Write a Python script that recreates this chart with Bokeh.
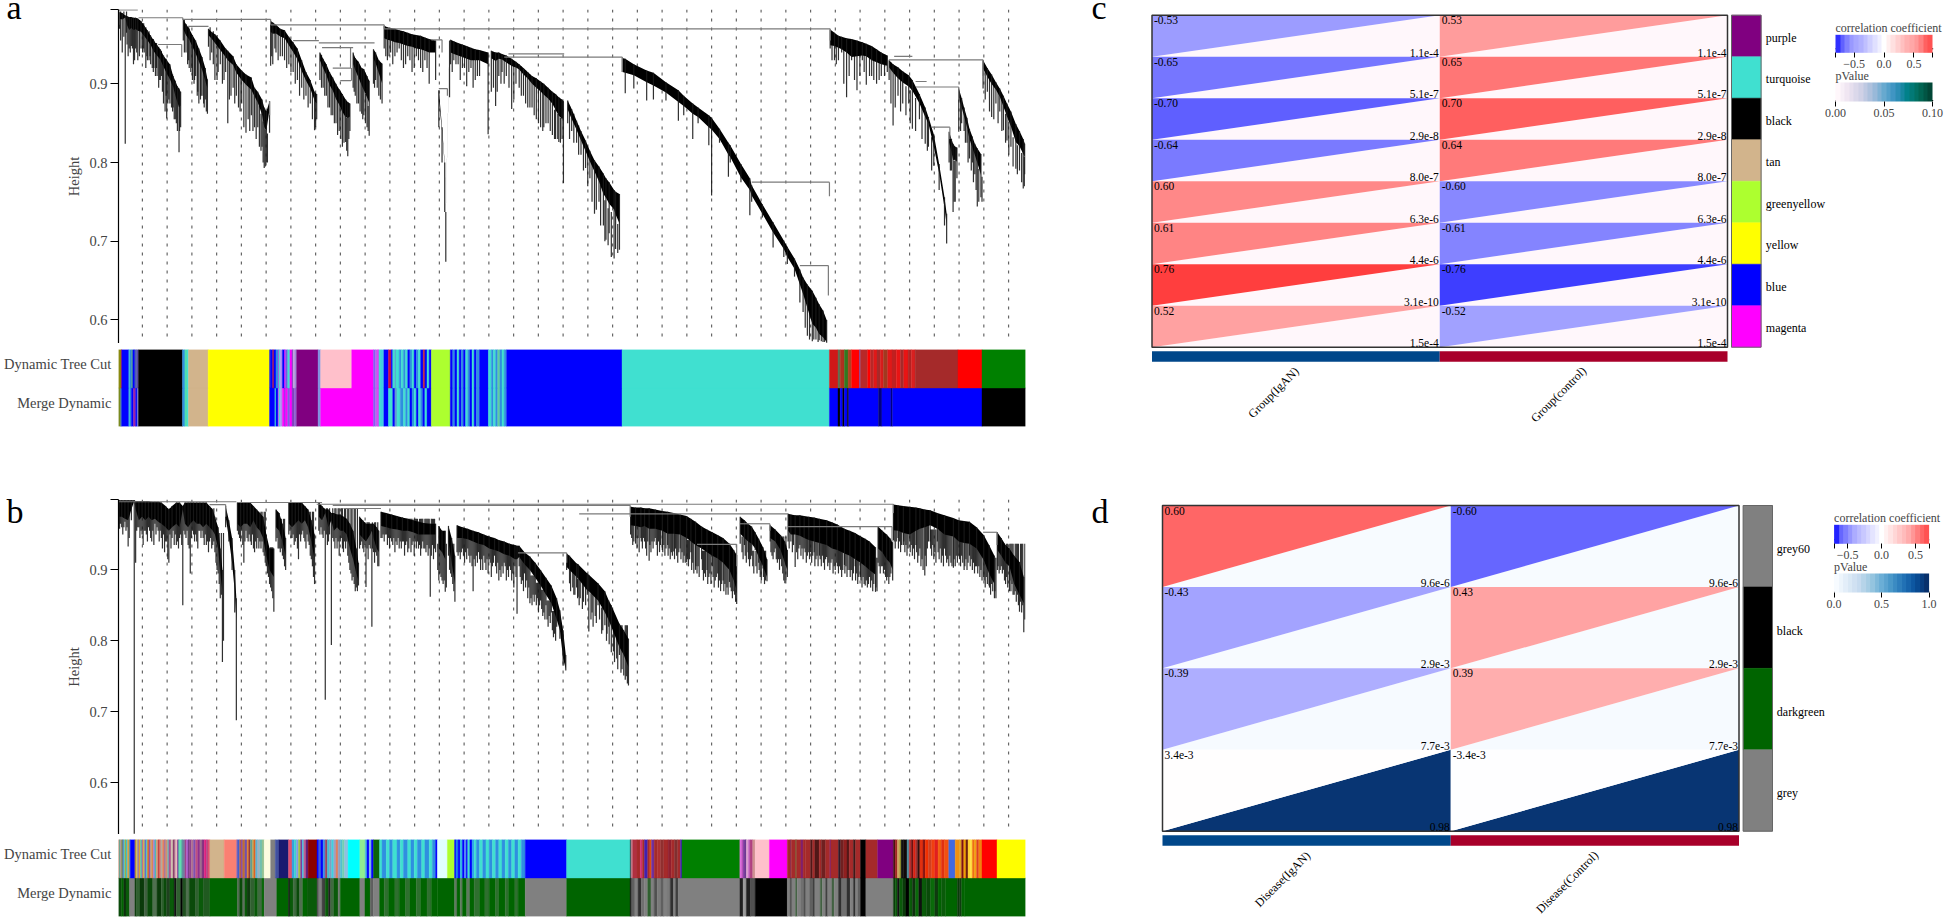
from math import pi
from bokeh.embed import file_html
from bokeh.resources import INLINE
from bokeh.layouts import column, row
from bokeh.plotting import figure
from bokeh.models import (AllLabels, ColorBar, ColumnDataSource, FixedTicker, LinearColorMapper, Range1d)
from bokeh.core.properties import value
from bokeh.palettes import PuBuGn, Blues

FONT = "Liberation Serif"
B, T, M, S = "#0000ff", "#40e0d0", "#ff00ff", "#2f8fe0"
DG, G, K = "#006400", "#808080", "#000000"

# ---------- dendrogram branches: (gene order, branch top, solid band low, longest drop) ----------
a1 = [(1,.991,.976,.97),(3.5,.99,.975,.94),(6.3,.987,.982,.824),(8,.986,.965,.95),(10,.985,.955,.945),(12,.985,.96,.948),(14,.984,.955,.925),(16,.984,.958,.945),(18,.983,.955,.93),(21,.98,.955,.945),(24,.974,.95,.94),(27,.968,.945,.93),(30,.961,.94,.925),(33,.955,.93,.92),(36,.949,.925,.91),(39,.944,.92,.905),(42,.936,.91,.875),(45,.93,.90,.856),(48,.925,.89,.875),(51,.91,.885,.87),(53,.904,.87,.855),(55,.897,.86,.84),(56.5,.894,.85,.813),(58,.89,.858,.845)]
a2 = [(60.5,.981,.96,.955),(63,.976,.95,.94),(66,.97,.945,.92),(69,.962,.935,.905),(72,.955,.925,.91),(75,.945,.915,.875),(78,.934,.905,.885),(81,.92,.89,.88),(83,.906,.885,.862)]
a3 = [(84,.97,.955,.947),(87,.966,.95,.94),(90,.963,.943,.905),(95,.955,.933,.925),(100,.945,.925,.915),(102,.942,.92,.85),(107,.935,.915,.895),(110,.925,.905,.885),(115,.917,.895,.875),(119,.912,.888,.838),(124,.908,.88,.86),(127,.895,.875,.845),(130,.89,.865,.845),(134,.88,.845,.82),(136,.87,.825,.793),(138,.865,.82,.80),(141,.878,.86,.838)]
a4 = [(142,.98,.955,.923),(144,.978,.952,.925),(147,.975,.955,.94),(151,.97,.952,.935),(155,.968,.95,.93),(159,.96,.94,.925),(163,.953,.93,.915),(167,.945,.92,.905),(171,.93,.905,.895),(175,.915,.895,.885),(179,.905,.885,.875),(183,.89,.87,.841),(185,.887,.865,.855)]
a5 = [(188,.94,.922,.905),(191,.932,.91,.895),(194,.925,.9,.885),(197,.915,.885,.87),(200,.908,.878,.86),(203,.9,.865,.85),(206,.893,.858,.84),(209,.887,.845,.82),(212,.88,.84,.826),(214,.877,.84,.808),(216,.875,.845,.84)]
a6 = [(219,.94,.913,.895),(221,.933,.905,.885),(224,.928,.892,.875),(227,.92,.88,.862),(229,.919,.87,.86),(232,.91,.86,.845),(234,.904,.853,.834)]
a7 = [(238,.944,.923,.90),(240,.94,.915,.905),(243,.93,.9,.885),(246,.926,.88,.875)]
a8 = [(248,.974,.958,.945),(251,.972,.956,.93),(254,.971,.955,.94),(258,.97,.953,.935),(262,.968,.952,.945),(266,.967,.95,.92),(270,.965,.948,.935),(274,.963,.947,.915),(278,.962,.945,.935),(282,.961,.944,.92),(286,.959,.942,.93),(290,.957,.94,.9),(296,.955,.94,.905)]
a9 = [(299,.892,.88,.845),(302,.845,.84,.80),(304.5,.80,.796,.737),(305.5,.737,.735,.674),(309,.955,.95,.883)]
a10 = [(310,.956,.94,.925),(313,.954,.938,.93),(317,.952,.936,.925),(321,.95,.934,.92),(325,.948,.932,.897),(329,.946,.93,.92),(333,.944,.93,.905),(337,.943,.93,.91),(345,.94,.925,.836)]
a11 = [(348,.942,.925,.89),(352,.94,.92,.872),(355,.94,.925,.91),(358,.938,.925,.915),(362,.936,.92,.91),(367,.932,.915,.868),(371,.928,.915,.90),(374,.925,.913,.895),(378,.92,.905,.885),(382,.915,.9,.87),(386,.91,.892,.87),(390,.907,.885,.855),(394,.903,.88,.845),(397,.9,.875,.845),(401,.895,.87,.85),(405,.89,.862,.835),(408,.887,.85,.83),(411,.883,.84,.826),(414,.88,.835,.83),(415.3,.878,.84,.774)]
a12 = [(419.3,.879,.858,.85),(423,.868,.845,.84),(427.6,.853,.832,.825),(431.7,.84,.818,.81),(436,.828,.803,.793),(440,.815,.79,.78),(444.3,.803,.777,.735),(448.5,.795,.76,.75),(452.6,.786,.739,.72),(455,.78,.735,.702),(458,.775,.725,.71),(462.6,.765,.72,.678),(464,.763,.71,.69),(467.6,.76,.692,.689)]
a13 = [(470.3,.933,.915,.915),(473,.932,.914,.888),(481,.925,.911,.894),(493,.917,.902,.879),(499.3,.914,.898,.88),(511,.902,.889,.879),(522.6,.892,.877,.853),(527.6,.885,.872,.86),(536,.875,.862,.83),(541,.87,.858,.85),(551,.86,.845,.822),(553.6,.857,.842,.758),(561,.843,.83,.825),(569.3,.825,.81,.782),(571,.822,.807,.80),(581,.798,.781,.775),(589.3,.78,.765,.733),(591,.771,.758,.75),(601,.747,.735,.73),(611,.724,.711,.692),(621,.701,.69,.68),(624.3,.693,.68,.671),(631,.678,.665,.655),(636,.664,.645,.622),(639,.654,.633,.61),(643,.645,.615,.58),(647.6,.637,.595,.573),(651,.628,.59,.575),(654,.62,.582,.574),(657.6,.612,.578,.572),(661,.60,.572,.571)]
a14 = [(664.3,.969,.949,.945),(668.3,.965,.948,.93),(672,.961,.946,.93),(675,.96,.944,.94),(679.6,.958,.94,.883),(684.3,.957,.934,.93),(689.3,.955,.935,.892),(694.3,.953,.936,.93),(698,.951,.935,.899),(703,.948,.93,.91),(707.6,.944,.9275,.9),(712,.94,.925,.91),(717.6,.936,.923,.915)]
a15 = [(719.3,.93,.913,.905),(723,.925,.905,.847),(727.6,.921,.896,.885),(732,.916,.89,.875),(737.6,.911,.885,.875),(741,.905,.88,.843),(747.6,.887,.866,.855),(753,.87,.848,.824),(756,.858,.843,.82),(761,.836,.807,.796),(766,.798,.777,.765),(771,.756,.731,.72),(773,.735,.709,.697)]
a16 = [(775.3,.839,.815,.80),(777.5,.83,.80,.79),(779,.824,.786,.737),(781,.82,.79,.75),(782.6,.819,.786,.78)]
a17 = [(784.3,.894,.875,.839),(787,.882,.86,.85),(789.3,.87,.849,.84),(792,.857,.835,.825),(794.3,.843,.819,.805),(797,.833,.808,.80),(799.3,.824,.798,.785),(801.6,.818,.785,.744),(805,.811,.762,.756)]
a18 = [(807,.93,.911,.894),(811,.92,.9,.89),(815,.912,.89,.858),(819,.902,.885,.875),(822.6,.894,.875,.865),(826,.885,.86,.841),(829.3,.875,.845,.828),(833,.865,.83,.82),(837.6,.849,.807,.792),(841,.84,.805,.79),(844.5,.83,.795,.767),(846,.824,.794,.785)]
a_branches = [a1,a2,a3,a4,a5,a6,a7,a8,a9,a10,a11,a12,a13,a14,a15,a16,a17,a18]
a_airy = [a1,a2,a3,a4,a5,a6,a7,a11,a12,a15,a16,a17,a18]
# (order, from, to) of the finer drops
a_fringe = [(2,.98,.955),(5,.98,.96),(7.5,.98,.965),(9,.97,.935),(11,.97,.94),(13,.97,.945),(15,.97,.93),(17,.97,.94),(19.5,.965,.935),(22.5,.965,.94),(23.5,.965,.945),(25.5,.96,.92),(26.5,.955,.935),(28.5,.955,.93),(29.5,.95,.935),(31.5,.945,.92),(32.5,.945,.915),(34.5,.94,.91),(35.5,.94,.92),(37.5,.935,.895),(38.5,.93,.905),(40,.93,.91),(41,.925,.89),(43.5,.92,.865),(44.5,.92,.885),(46,.91,.875),(47,.91,.88),(49.5,.90,.87),(50.5,.90,.865),(52,.885,.855),(54,.88,.85),(57,.87,.84),
 (61.5,.97,.94),(64.5,.96,.925),(65.5,.96,.93),(67.5,.95,.915),(68.5,.95,.92),(70.5,.94,.9),(71,.94,.905),(73.5,.93,.885),(74,.93,.89),(76.5,.92,.88),(77,.92,.885),(79.5,.905,.875),(80,.90,.87),(82,.895,.865),
 (85.5,.96,.93),(88.5,.955,.925),(92,.95,.905),(93,.945,.915),(97,.935,.9),(98.5,.93,.905),(103.5,.925,.88),(105,.92,.885),(108.5,.915,.875),(112,.905,.87),(113.5,.9,.865),(117,.895,.845),(121,.89,.855),(122.5,.885,.84),(125.5,.88,.84),(128.5,.87,.83),(131.5,.86,.82),(133,.85,.815),(135,.84,.80),(137,.83,.795),(139,.825,.80),
 (143,.965,.935),(146,.96,.945),(149,.96,.93),(153,.955,.935),(157,.95,.92),(161,.94,.915),(165,.93,.9),(169,.92,.885),(173,.905,.88),(177,.895,.87),(181,.88,.855),(184,.875,.845),
 (189.5,.925,.895),(192.5,.915,.885),(195.5,.905,.87),(198.5,.895,.86),(201.5,.885,.85),(204.5,.87,.835),(207.5,.86,.83),(210.5,.85,.825),(213,.845,.815),(215,.85,.83),
 (220,.92,.89),(222.5,.91,.875),(225.5,.90,.865),(228,.885,.855),(230.5,.875,.85),(233,.86,.84),(239,.925,.895),(241.5,.915,.895),(244.5,.905,.88),
 (249.5,.96,.935),(252.5,.955,.935),(256,.955,.925),(260,.955,.94),(264,.95,.93),(268,.95,.925),(272,.95,.93),(276,.945,.92),(280,.945,.93),(284,.945,.915),(288,.94,.92),
 (311.5,.94,.915),(315,.94,.925),(319,.935,.905),(323,.935,.92),(327,.93,.915),(331,.93,.895),(335,.93,.91),
 (350,.925,.895),(353.5,.92,.89),(357,.925,.9),(360,.92,.9),(364.5,.92,.895),(369,.915,.88),(376,.91,.885),(380,.905,.875),(384,.9,.87),(388,.89,.86),(392,.885,.85),(396,.88,.84),(399,.875,.85),(403,.87,.84),(407,.855,.83),(410,.85,.83),(412.5,.845,.825),
 (421,.86,.83),(425,.85,.825),(429.5,.835,.81),(434,.815,.79),(438,.805,.77),(442,.79,.75),(446,.78,.74),(450,.76,.72),(454,.74,.70),(457,.73,.695),(460,.725,.68),(466,.71,.685),
 (641,.63,.59),(645,.62,.575),(649,.60,.575),(653,.59,.572),(656,.585,.573),(659,.58,.572),
 (666,.95,.93),(670,.95,.925),(677,.945,.9),(682,.94,.91),(687,.94,.905),(692,.935,.91),(696,.935,.915),(701,.93,.91),(705,.93,.905),(710,.925,.905),(715,.925,.91),
 (721,.915,.875),(725,.905,.87),(730,.895,.865),(735,.885,.86),(739,.88,.85),(744,.87,.84),(750,.86,.83),(755,.845,.815),(759,.82,.79),
 (776.5,.815,.79),(780,.79,.75),(786,.87,.84),(790.5,.85,.825),(793,.83,.80),(796,.815,.79),(798,.81,.775),(800.5,.80,.765),(803,.78,.75),(806,.77,.75),(809,.91,.88),(813,.895,.865),(817,.89,.855),(821,.88,.85),(824.5,.87,.84),(828,.85,.825),(831,.84,.81),(835,.82,.795),(839,.81,.785),(843,.80,.775),(845.5,.795,.77)]
# (from, to, height) of the joining branches
a_joins = [(0,18,.994),(18.7,60,.984),(37,59,.95),(60,142,.982),(65,84,.973),(142,248,.975),(163,187,.955),(187,239,.952),(190,219,.946),(200,217,.92),(207,217,.904),(248,664.3,.97),(364,416,.938),(360,470.3,.934),(591,663.6,.775),(636,662.6,.669),(719,807,.9305),(744.3,784.3,.896),(759.3,776,.845),(724,741,.935),(744,754.3,.903),(292,302,.956),(299,307,.894)]
# (order, top, bottom) of the joining stems
a_stems = [(59,.95,.934),(60,.984,.981),(142,.982,.975),(248,.975,.97),(663.6,.775,.757),(662.6,.669,.631),(664.3,.97,.955),(470.3,.934,.915),(807,.9305,.91),(784.3,.896,.88),(776,.845,.83),(216.6,.946,.92),(217.5,.92,.904),(141,.878,.86),(302,.956,.94),(307,.894,.885),(0.3,.994,.975)]

b1 = [(0.5,.998,.975,.965),(3,.998,.975,.96),(6,.998,.972,.968),(9,.998,.97,.933),(12,.998,.985,.97),(14.7,.998,.997,.528),(16,.997,.985,.91),(19,.997,.97,.96),(22,.997,.975,.95),(25,.997,.97,.955),(28,.997,.975,.96),(31,.996,.97,.94),(34,.996,.972,.965),(37,.996,.968,.955),(40,.995,.965,.945),(44,.99,.96,.94),(47,.985,.955,.91),(50,.99,.96,.945),(54,.995,.965,.935),(57,.995,.96,.945),(60,.99,.985,.85),(62,.995,.965,.95),(65,.995,.96,.935),(67,.995,.965,.895),(70,.995,.97,.95),(73,.995,.965,.94),(76,.995,.965,.955),(79,.995,.96,.945),(82,.995,.965,.935),(85,.99,.96,.94),(88,.985,.955,.935),(90,.975,.95,.925),(93,.96,.93,.895),(95,.93,.895,.86),(97,.90,.87,.77)]
b2 = [(100,.99,.975,.96),(103,.97,.945,.94),(106,.945,.91,.90),(108.5,.90,.87,.84),(110,.86,.83,.688)]
b3 = [(111,.995,.965,.955),(114,.995,.96,.94),(117,.995,.965,.91),(120,.995,.965,.945),(123,.995,.96,.94),(126,.99,.97,.93),(129,.985,.96,.93),(132,.98,.955,.94),(135,.975,.945,.925),(138,.95,.92,.905),(141,.93,.90,.88),(145,.93,.89,.841)]
b4 = [(147,.985,.96,.94),(150,.98,.955,.93),(153,.965,.94,.92),(156,.945,.92,.90)]
b5 = [(159,.995,.965,.95),(162,.995,.96,.945),(165,.995,.965,.94),(168,.995,.97,.915),(171,.995,.965,.95),(174,.99,.97,.94),(177,.985,.96,.94),(180,.97,.94,.915),(183,.95,.915,.88)]
b6 = [(187,.995,.975,.955),(190,.99,.97,.95),(193,.985,.98,.717),(196,.985,.96,.94),(198.7,.98,.97,.794),(201,.98,.955,.94),(204,.978,.96,.93),(207,.978,.955,.94),(210,.975,.955,.925),(213,.972,.95,.94),(216,.965,.93,.90),(219,.955,.915,.89),(222,.93,.895,.875),(224,.91,.885,.878)]
b7 = [(225,.975,.95,.93),(228,.97,.945,.93),(231,.965,.94,.876),(235,.965,.95,.93),(236.5,.965,.955,.82),(238,.965,.945,.925),(241,.96,.93,.92),(243,.955,.925,.905)]
b8 = [(245,.982,.962,.945),(250,.98,.96,.95),(255,.978,.958,.94),(260,.976,.957,.935),(265,.974,.955,.94),(270,.972,.955,.925),(275,.97,.953,.94),(280,.968,.95,.93),(285,.966,.95,.93),(291,.965,.95,.862),(296,.965,.95,.925)]
b9 = [(299,.962,.93,.885),(302,.955,.925,.885),(305,.955,.915,.869)]
b10 = [(308,.962,.94,.92),(311,.945,.91,.89),(314,.92,.88,.855)]
b11 = [(316,.963,.945,.925),(321,.96,.945,.93),(326,.958,.943,.93),(331,.955,.94,.87),(336,.953,.937,.925),(341,.95,.935,.92),(346,.947,.93,.915),(351,.945,.928,.92),(355,.942,.926,.885),(360,.94,.922,.91),(365,.937,.92,.905),(370,.935,.915,.905),(372,.934,.915,.838),(374,.934,.918,.905),(379,.925,.908,.895),(384,.919,.9,.853),(389,.91,.889,.865),(394,.9,.878,.857),(399,.889,.865,.85),(404,.878,.853,.84),(409,.86,.83,.82),(412,.843,.815,.803),(415,.815,.775,.765),(417.5,.78,.76,.758)]
b12 = [(418.3,.923,.904,.9),(421,.92,.90,.881),(427.6,.909,.89,.875),(429,.908,.888,.862),(437.6,.895,.871,.865),(439,.893,.87,.813),(447.6,.881,.857,.85),(454,.87,.84,.822),(457.6,.857,.829,.82),(460,.85,.82,.784),(467.6,.824,.791,.78),(471.6,.815,.78,.751),(476,.803,.763,.737)]
b13 = [(478,.989,.963,.95),(482.6,.988,.962,.937),(487.6,.988,.96,.945),(491,.987,.962,.94),(495.3,.987,.958,.913),(501,.985,.958,.945),(507.6,.983,.955,.928),(512.6,.982,.951,.935),(518.3,.98,.951,.926),(524.3,.978,.95,.93),(530.3,.976,.945,.911),(534.3,.972,.94,.925),(538.6,.968,.935,.9),(544.3,.961,.93,.915),(549.3,.957,.925,.9),(554.3,.953,.92,.905),(559.3,.949,.916,.895),(564.3,.945,.91,.885),(570.3,.937,.9,.883),(574.3,.928,.885,.87),(577,.921,.871,.852)]
b14 = [(580.3,.975,.951,.937),(584.3,.97,.945,.935),(587.6,.965,.94,.925),(591,.961,.937,.92),(594.3,.953,.93,.928),(597.6,.944,.918,.91),(601.6,.932,.905,.902),(605.3,.915,.89,.884)]
b15 = [(608.3,.963,.945,.94),(613,.957,.94,.93),(618,.949,.928,.915),(622,.94,.91,.881),(624.3,.928,.9,.89)]
b16 = [(625,.979,.955,.94),(627.6,.978,.95,.94),(631.6,.977,.95,.904),(636,.977,.948,.935),(640,.976,.945,.93),(644.3,.975,.942,.925),(649.3,.974,.94,.925),(654.3,.972,.938,.92),(661,.97,.935,.918),(666,.967,.93,.915),(671,.964,.928,.905),(677.6,.958,.923,.907),(682.6,.955,.92,.9),(687.6,.952,.915,.905),(692.6,.9475,.91,.89),(697,.944,.905,.878),(701,.94,.9,.89),(706.6,.932,.893,.869)]
b17 = [(709,.961,.93,.91),(713,.955,.925,.905),(717,.95,.915,.885),(720,.945,.91,.89),(722.6,.939,.9,.885)]
b18 = [(723.3,.992,.956,.942),(727.6,.991,.955,.945),(732.6,.99,.952,.935),(738.6,.989,.95,.94),(744.3,.988,.955,.935),(748,.987,.958,.93),(752.6,.985,.96,.892),(757.6,.984,.963,.94),(764.3,.98,.958,.94),(771,.977,.95,.93),(779.3,.973,.947,.903),(784.3,.97,.94,.92),(789.3,.969,.938,.9),(794.3,.968,.937,.92),(801,.96,.93,.905),(807.6,.949,.914,.89),(812.6,.935,.895,.878),(817.6,.92,.88,.86)]
b19 = [(820.3,.953,.928,.9),(824,.945,.92,.905),(828,.935,.91,.88),(831.6,.93,.905,.87),(836,.92,.88,.865),(841,.911,.865,.841),(845,.89,.853,.812)]
b_branches = [b1,b2,b3,b4,b5,b6,b7,b8,b9,b10,b11,b12,b13,b14,b15,b16,b17,b18,b19]
# (from, [(order, to), ...]) of the finer drops
b_f1 = (.975,[(1,.958),(2,.965),(4,.95),(5,.96),(7,.955),(8,.96),(10,.945),(17,.955),(18,.96),(20,.945),(21,.955),(23,.935),(24,.955),(26,.95),(27,.94),(29,.955),(30,.945),(32,.955),(33,.935),(35,.95),(36,.96),(38,.94),(39,.955),(41,.93),(42,.95),(43,.925),(45,.94),(46,.915),(48,.95),(49,.93),(51,.955),(52,.935),(53,.95),(55,.94),(56,.93),(58,.95),(59,.935),(61,.955),(63,.945),(64,.955),(66,.93),(68,.945),(69,.955),(71,.94),(72,.95),(74,.93),(75,.955),(77,.945),(78,.955),(80,.935),(81,.95),(83,.94),(84,.925),(86,.945),(87,.93),(89,.94)])
b_f2 = (.94,[(91,.91),(92,.90),(94,.88),(96,.865),(98,.80)])
b_f3 = (.97,[(112,.95),(113,.945),(115,.955),(116,.935),(118,.94),(119,.955),(121,.94),(122,.95),(124,.935),(125,.95),(127,.925),(128,.94),(130,.945),(131,.93),(133,.93),(134,.94),(136,.92),(137,.91),(160,.955),(161,.945),(163,.95),(164,.935),(166,.945),(167,.93),(169,.95),(170,.94),(172,.955),(173,.945),(175,.93),(176,.95),(178,.935),(179,.92),(181,.905),(182,.89)])
b_f4 = (.92,[(139,.895),(140,.89),(142,.875),(143,.87),(144,.86)])
b_f5 = (.96,[(148,.945),(149,.93),(151,.925),(152,.93),(154,.915),(155,.905)])
b_f6 = (.975,[(188,.95),(189,.96),(191,.945),(192,.955),(194,.95),(195,.935),(197,.95),(200,.945),(202,.93),(203,.945),(205,.94),(206,.92),(208,.945),(209,.93),(211,.94),(212,.93),(214,.92),(215,.91),(217,.895),(218,.885),(220,.88),(221,.87),(223,.87)])
b_f7 = (.955,[(226,.935),(227,.94),(229,.925),(230,.935),(232,.93),(233,.915),(234,.935),(237,.93),(239,.91),(240,.925),(242,.905)])
b_f8 = (.96,[(246,.945),(247,.95),(248,.94),(249,.95),(251,.935),(252,.945),(253,.93),(254,.945),(256,.935),(257,.945),(258,.925),(259,.94),(261,.945),(262,.93),(263,.94),(264,.93),(266,.94),(267,.92),(268,.935),(269,.94),(271,.93),(272,.945),(273,.925),(274,.935),(276,.92),(277,.94),(278,.93),(279,.94),(281,.935),(282,.92),(283,.93),(284,.94),(286,.93),(287,.925),(288,.935),(289,.92),(290,.93),(292,.92),(293,.935),(294,.915),(295,.93)])
b_f9 = (.925,[(298,.90),(300,.895),(301,.89),(303,.88),(304,.885),(306,.875),(309,.90),(310,.895),(312,.88),(313,.87)])
b_f10 = (.94,[(317,.92),(318,.925),(319,.915),(320,.925),(322,.92),(323,.91),(324,.925),(325,.915),(327,.92),(328,.91),(329,.92),(330,.905)])
b_f11 = (.93,[(332,.915),(333,.905),(334,.92),(335,.91),(337,.915),(338,.90),(339,.915),(340,.90),(342,.91),(343,.90),(344,.915),(345,.895),(347,.91),(348,.89),(349,.905),(350,.91)])
b_f12 = (.92,[(352,.905),(353,.895),(354,.91),(356,.90),(357,.89),(358,.905),(359,.895),(361,.905),(362,.885),(363,.9),(364,.89),(366,.9),(367,.885),(368,.895),(369,.875),(371,.89)])
b_f13 = (.905,[(375,.89),(376,.88),(377,.885),(378,.87)])
b_f14 = (.895,[(380,.875),(381,.885),(382,.86),(383,.875)])
b_f15 = (.88,[(385,.86),(386,.85),(387,.865),(388,.855)])
b_f16 = (.87,[(390,.85),(391,.86),(392,.84),(393,.85)])
b_f17 = (.86,[(395,.845),(396,.835),(397,.84),(398,.83)])
b_f18 = (.845,[(400,.83),(401,.82),(402,.835),(403,.825)])
b_f19 = (.83,[(405,.815),(406,.805),(407,.81),(408,.80)])
b_f20 = (.89,[(422,.87),(424,.875),(425,.865),(426,.865)])
b_f21 = (.875,[(428.5,.86),(430,.85),(431,.86),(433,.845),(434,.855),(436,.85)])
b_f22 = (.855,[(441,.83),(442,.84),(443,.82),(445,.835),(446,.825),(449,.83)])
b_f23 = (.835,[(451,.81),(452,.815),(455.5,.80),(456,.81),(458,.795)])
b_f24 = (.81,[(462,.785),(463,.77),(465,.775),(466,.76),(469,.755),(470,.76),(473,.745),(474,.75),(475,.74)])
b_f25 = (.955,[(479,.945),(480,.935),(481,.94),(483,.945),(484,.93),(485,.945),(486,.925),(488,.94),(489,.93),(490,.945),(492,.93),(493,.92),(494,.94),(496,.935),(497,.925),(498,.94),(499,.93),(500,.94),(502,.935),(503,.92),(504,.94),(505,.925),(506,.935)])
b_f26 = (.945,[(508,.925),(509,.935),(510,.92),(511,.93),(513,.92),(514,.93),(515,.915),(516,.925),(517,.92),(519,.915),(520,.93),(521,.92),(522,.91),(523,.925),(525,.915),(526,.925),(527,.91),(528,.92),(529,.91)])
b_f27 = (.93,[(531,.915),(532,.905),(533,.915),(535,.90),(536,.91),(537,.895),(539,.905),(540,.895),(541,.905),(542,.89)])
b_f28 = (.915,[(545,.90),(546,.885),(547,.895),(548,.89),(550,.88),(551,.89),(552,.895),(553,.88),(555,.89),(556,.875),(557,.885),(558,.89),(560,.875),(561,.885),(562,.87),(563,.88),(565,.87),(566,.88),(567,.865),(568,.875),(569,.865)])
b_f29 = (.89,[(571,.875),(572,.87),(573,.86),(575,.865),(576,.855)])
b_f30 = (.935,[(582,.925),(583,.915),(585,.92),(586,.91),(588,.915),(589,.905),(590,.915),(609,.925),(610,.92),(611,.915),(612,.925),(614,.915),(615,.91),(616,.915),(617,.9),(619,.905),(620,.895),(621,.885),(623,.885)])
b_f31 = (.915,[(592,.905),(593,.895),(595,.905),(596,.895),(598,.9),(599,.89),(600,.885),(602,.89),(603,.88),(604,.885)])
b_f32 = (.945,[(626,.93),(629,.925),(630,.935),(633,.925),(634,.915),(635,.93),(637,.92),(638,.93),(639,.915),(641,.925),(642,.91),(643,.92),(645,.915),(646,.925),(647,.91),(648,.92),(650,.905),(651,.915),(652,.92),(653,.905),(655,.915),(656,.905),(657,.92),(658,.91),(659,.9),(660,.915)])
b_f33 = (.925,[(662,.905),(663,.91),(664,.90),(665,.91),(667,.895),(668,.905),(669,.9),(670,.91),(672,.895),(673,.905),(674,.9),(675,.89),(676,.9),(678,.895),(679,.905),(680,.89),(681,.9),(683,.89),(684,.9),(685,.885),(686,.895),(688,.885),(689,.895),(690,.88),(691,.89),(710,.905),(711,.895),(712,.905),(714,.895),(715,.9),(716,.89),(718,.89),(719,.88),(721,.895)])
b_f34 = (.905,[(693,.885),(694,.875),(695,.89),(696,.88),(698,.885),(699,.875),(700,.88),(702,.875),(703,.885),(704,.87),(705,.88),(707,.875),(708,.87)])
b_f35 = (.955,[(724,.94),(725,.93),(726,.94),(728,.93),(729,.94),(730,.925),(731,.935),(733,.94),(734,.925),(735,.935),(736,.92),(737,.93),(739,.925),(740,.935),(741,.92),(742,.93),(743,.915),(745,.925),(746,.91),(747,.92),(749,.905),(750,.915),(751,.9),(753,.92),(754,.905),(755,.93),(756,.94)])
b_f36 = (.945,[(758,.93),(759,.92),(760,.935),(761,.915),(762,.925),(763,.91),(765,.925),(766,.915),(767,.93),(768,.91),(769,.92),(770,.905),(772,.92),(773,.91),(774,.915),(775,.905),(776,.92),(777,.91),(778,.905),(780,.915),(781,.905),(782,.92),(783,.91),(785,.915),(786,.905),(787,.92),(788,.91),(790,.905),(791,.915),(792,.9),(793,.91)])
b_f37 = (.925,[(795,.905),(796,.915),(797,.90),(798,.91),(799,.895),(800,.905),(802,.895),(803,.905),(804,.89),(805,.9),(806,.885),(821,.905),(822,.895),(823,.9),(825,.895),(826,.9),(827,.885),(829,.89),(830,.875),(832,.885),(833,.87),(834,.88),(835,.865),(837,.87),(838,.855),(839,.865),(840,.85),(842,.855),(843,.84),(844,.85),(846,.83)])
b_f38 = (.905,[(808,.885),(809,.875),(810,.89),(811,.88),(813,.875),(814,.865),(815,.88),(816,.87),(818,.87),(819,.86)])
b_groups = [b_f1,b_f2,b_f3,b_f4,b_f5,b_f6,b_f7,b_f8,b_f9,b_f10,b_f11,b_f12,b_f13,b_f14,b_f15,b_f16,b_f17,b_f18,b_f19,b_f20,b_f21,b_f22,b_f23,b_f24,b_f25,b_f26,b_f27,b_f28,b_f29,b_f30,b_f31,b_f32,b_f33,b_f34,b_f35,b_f36,b_f37,b_f38]
b_fringe = [(x, g[0], low) for g in b_groups for x, low in g[1]]
b_joins = [(0,110,.996),(85,100,.992),(111,190,.995),(185,723.3,.9925),(200,477.6,.991),(210,245,.9865),(373,418.3,.924),(430,625,.979),(625,722,.961),(540,577,.936),(580,608,.965),(807,820,.953)]
b_stems = [(100,.992,.975),(577,.936,.905),(723.3,.9925,.98),(477.6,.991,.975),(418.3,.924,.91),(722,.961,.94),(820,.953,.935),(608,.965,.955)]

guides = [22.3,45.4,68.5,91.6,114.7,137.8,160.9,184,207.1,230.2,253.3,276.4,299.5,322.6,345.7,368.8,391.9,415,438.1,461.2,484.3,507.4,530.5,553.6,576.7,599.8,622.9,646,669.1,692.2,715.3,738.4,761.5,784.6,807.7,830.8]
tick_values = [.6,.7,.8,.9]
row_names = ["Merge Dynamic", "Dynamic Tree Cut"]

# ---------- module colour rows: (end in gene order, colour) ----------
a_cut = [(2.5,"#8a8a10"),(3,"#e01010"),(9.7,B),(10.5,T),(12,S),(13.5,"#3f8f9f"),(15.3,B),(17,"#4a5fb0"),(18.7,"#5a4aa0"),(59.7,K),(62,S),(64,"#50e0b0"),(65.3,T),(83.7,"#d2b48c"),(141,"#ffff00"),(142,"#1010d0"),(144,B),(145,"#e01010"),(147,B),(149,S),(150,"#a050e0"),(151,T),(153,"#b090f0"),(155,B),(156,M),(158,"#7060e0"),(160,T),(162,M),(163,"#8040c0"),(165,"#c0a0e0"),(166.3,"#9080d0"),(186.3,"#800080"),(188.7,"#8090e0"),(217.7,"#ffc0cb"),(238,M),(240,"#8060f0"),(242,"#c060f0"),(243,M),(245,T),(247.7,"#40d0e0"),(252,B),(254.5,"#d01040"),(256,B),(258,T),(259,"#60a0d0"),(262,T),(264,S),(266,T),(268,S),(270,T),(272,B),(274,S),(276,T),(278,B),(280,S),(282,T),(284.5,B),(286,"#d02020"),(288,B),(290,T),(292,B),(309.7,"#adff2f"),(312,B),(314,S),(316,B),(318,T),(320,B),(322,S),(324,B),(326,T),(328,S),(330,B),(332,T),(334,B),(337,S),(345.3,B),(348,T),(350,S),(352,T),(354,S),(356,"#60d0a0"),(358,S),(360,T),(362.3,S),(470,B),(663.6,T),(671.6,"#d01818"),(673.6,"#607050"),(677.6,"#b03020"),(681,"#2f7a20"),(684.3,"#b04020"),(691.6,"#ff0000"),(692.6,"#7040a0"),(699.3,"#b82828"),(702,"#ff0000"),(705,"#b82828"),(708,"#e01818"),(711,"#a52a2a"),(714,"#d81c1c"),(718,"#a03a20"),(722,"#e01818"),(726,"#c02020"),(730,"#e81414"),(733,"#a52a2a"),(737,"#e81414"),(740,"#b02525"),(743.6,"#d82020"),(783.6,"#a52a2a"),(806,"#ff0000"),(846.6,"#008000")]
a_merge = [(2,"#7a8a20"),(3,"#3070b0"),(9.7,B),(10.5,T),(12,S),(14,B),(16,"#a020a0"),(17.5,B),(18.7,"#7070d0"),(59.7,K),(62,S),(64,"#50e0b0"),(65.3,T),(83.7,"#d2b48c"),(141,"#ffff00"),(146,B),(147,T),(149,B),(150,"#c060f0"),(151,T),(153,"#b090f0"),(155,M),(156,"#8020e0"),(158,M),(160,"#8060e0"),(162,M),(164,"#8040c0"),(166.3,"#9060d0"),(186.3,"#800080"),(188.7,"#8090e0"),(238,M),(240,"#8060f0"),(242,"#c060f0"),(243,M),(245,T),(247.7,"#40d0e0"),(252,B),(256,T),(258,B),(260,"#60a0d0"),(263,T),(266,S),(268,T),(270,S),(272,T),(274,B),(276,S),(278,T),(280,B),(282,T),(284,S),(286,B),(288,T),(292,B),(309.7,"#adff2f"),(312,B),(314,S),(316,B),(318,T),(320,B),(322,S),(324,B),(326,T),(328,S),(330,B),(332,T),(334,B),(337,S),(345.3,B),(348,T),(350,S),(352,T),(354,S),(356,"#60d0a0"),(358,S),(360,T),(362.3,S),(470,B),(663.6,T),(671.6,B),(673.6,K),(676,B),(677.6,K),(680.3,B),(681.6,K),(709.3,B),(712.6,"#000080"),(721,B),(722.6,"#000080"),(806,B),(846.6,K)]
P = "#a52a2a"
b_cut = [(1,"#b06040"),(2,"#40b0a0"),(3,"#e08080"),(4,"#509040"),(5,"#6060c0"),(6,T),(7,"#c0a030"),(8.5,"#40c0c0"),(10,"#e0a040"),(11,"#50a0a0"),(15.3,B),(16.5,"#b08040"),(18,"#d0c050"),(19,"#8060c0"),(20.5,"#e0a030"),(22,"#50c0b0"),(23,"#c06090"),(24.5,"#d0b040"),(26,"#6070d0"),(27,"#40d0c0"),(28.5,"#e07020"),(30,"#9050b0"),(31,"#c0b070"),(32.5,"#e08050"),(34,"#a080d0"),(35,"#30c0c0"),(37,"#d0a080"),(38,"#c03030"),(39.5,"#d06060"),(41,"#b0b0a0"),(43,"#e08060"),(44,"#9060a0"),(46,"#d09070"),(47,"#50c0c0"),(49,"#b05090"),(51,"#d0c0b0"),(52.5,"#803060"),(53.5,"#c090a0"),(55,"#f0c0c0"),(56,"#703090"),(57,"#40b0a0"),(59,"#60e0b0"),(60,"#409090"),(62,"#7080a0"),(63.5,"#a04090"),(65,"#b060d0"),(66,"#703080"),(68,"#904090"),(70,"#b07090"),(72,"#8050b0"),(74,"#c05080"),(76,"#903090"),(78,"#a07090"),(80,"#803080"),(82,"#e02080"),(83.5,"#b04080"),(85.3,"#e05070"),(98.7,"#d2b48c"),(110.3,"#fa8072"),(111.5,"#8060b0"),(113,"#4060d0"),(114.5,"#c06040"),(116,"#8040a0"),(118,"#c07030"),(120,"#7050b0"),(121.5,"#e08030"),(123,"#a03030"),(125,"#60a090"),(126.5,"#c0a050"),(128,"#e06020"),(130,"#60b0d0"),(132,"#a0b0c0"),(134,"#70c0b0"),(136,"#90c090"),(142,"#fcfce0"),(146.3,G),(149.7,"#4050a0"),(158.7,"#191970"),(162,"#e05070"),(164,"#30a0e0"),(166,"#40d0d0"),(168,"#80a0e0"),(170,"#a0c040"),(171.5,"#8030a0"),(173,"#40c0e0"),(175,"#c06090"),(177,"#602080"),(185.3,"#8b0000"),(187,B),(189,"#4060e0"),(191,B),(193,"#4090e0"),(195,"#a04060"),(197,"#40c0d0"),(199,"#80a0c0"),(201,"#40d0e0"),(203,"#a0a0c0"),(205,"#e08060"),(207,"#90a0c0"),(209,"#50c0d0"),(211,"#70d0b0"),(214.3,"#90c0e0"),(225.3,"#00ffff"),(230.3,"#90ee90"),(232,"#40b0e0"),(234,B),(236,"#80c0e0"),(238,B),(243.7,"#0a640a"),(246,T),(250,S),(253,T),(256,S),(260,T),(263,S),(266,T),(270,S),(273,T),(276,S),(279,T),(283,S),(286,T),(290,S),(293,T),(296,S),(297.7,B),(307,"#e0ffff"),(313.7,"#adff2f"),(315,B),(317,"#2080f0"),(319,B),(321,"#30c0e0"),(323,B),(324.5,"#60a0f0"),(326,B),(328,T),(330,B),(332,"#30a0f0"),(334,T),(337,S),(340,T),(343,S),(346,T),(349,S),(352,T),(355,S),(358,T),(361,S),(364,T),(367,S),(370,T),(373,S),(376,T),(379.7,S),(418.3,B),(477.6,T),(478.5,"#205050"),(480,"#c07080"),(484,"#b03040"),(487,P),(489,"#d03070"),(491,P),(494,"#4020b0"),(496,P),(497.5,"#e05010"),(500,"#7030a0"),(503,P),(506,"#b03030"),(509,"#903030"),(513,P),(516,"#902030"),(519,P),(522,"#803030"),(524.5,P),(526,"#4020b0"),(580,"#008000"),(581.5,"#e070e0"),(583,"#c050c0"),(585,"#8040a0"),(586,"#502080"),(588,"#e0a0d0"),(589.5,"#c060c0"),(592,"#b04080"),(594.3,"#d09090"),(607.6,"#ffc0cb"),(624.3,M),(627,P),(628,"#802040"),(632,P),(633,"#705020"),(637,P),(639,"#802070"),(641,P),(646,P),(648,"#501818"),(650,P),(654,"#501818"),(656,P),(660,"#702020"),(664,P),(665,"#802070"),(672,P),(674,"#301828"),(677,"#702020"),(680,"#902020"),(682,"#501818"),(686,P),(688,"#401818"),(692.6,P),(697.6,K),(708.6,P),(723.3,"#800080"),(725,"#401010"),(727,"#a02020"),(729,"#d0a060"),(730.5,"#a0a030"),(733,"#101010"),(736,"#100808"),(738,"#5090a0"),(740,"#c03030"),(742,"#701010"),(744,"#e02010"),(746,"#a03030"),(748,"#301010"),(751,"#e03010"),(753,"#801010"),(756,"#f03000"),(759,"#d04020"),(762,"#f04010"),(765,"#e02020"),(768,"#f06010"),(771,"#e03010"),(775,"#f05010"),(781,"#4169e1"),(785,"#f09010"),(787,"#e0a020"),(789,"#801010"),(791,"#f0a000"),(793,"#702010"),(795,"#ffd030"),(797,"#ffe040"),(799,"#f07010"),(801,"#f0a010"),(803,"#e04020"),(806,"#f08010"),(820,"#ff0000"),(846.6,"#ffff00")]
b_merge = [(3,"#0a4a0a"),(5,DG),(7,"#103010"),(10.3,"#0a5a0a"),(15.3,G),(17,"#104010"),(20,"#306030"),(24,"#0a3a0a"),(27,"#406040"),(32,"#0a4a0a"),(36,"#507050"),(40,"#0a3a0a"),(42,"#306030"),(45,"#0a4a0a"),(48,"#204020"),(52,"#0a5a0a"),(54,"#101010"),(58,"#306030"),(60,K),(63,"#205020"),(66,"#507050"),(72,"#0a4a0a"),(75,"#306030"),(79,"#0a5a0a"),(85.3,"#205a20"),(111,DG),(113,"#506a50"),(116,"#0a4a0a"),(118,"#606f60"),(120,"#0a5a0a"),(123,"#103a10"),(127,"#306030"),(130,"#0a5a0a"),(134,"#406a40"),(136,DG),(147.7,G),(158.7,DG),(160,"#101010"),(163,"#0a5a0a"),(166,"#406a40"),(169,"#0a4a0a"),(172,"#507050"),(176,DG),(185.3,"#0a5a0a"),(187,"#505050"),(190,G),(193,"#404040"),(196,"#0a5a0a"),(198,"#202020"),(201,"#406a40"),(205,"#0a5a0a"),(207,"#707a70"),(225.3,DG),(230,G),(235,DG),(238,"#606060"),(243.7,G),(248,DG),(252,"#2f6f2f"),(258,DG),(262,"#2f6f2f"),(268,DG),(272,"#2f6f2f"),(278,DG),(282,"#2f6f2f"),(288,DG),(292,"#2f6f2f"),(297.7,DG),(313.7,DG),(316,"#607a60"),(319,DG),(321,"#607a60"),(325,DG),(328,"#607a60"),(332,DG),(337,"#2f6f2f"),(342,DG),(346,"#2f6f2f"),(352,DG),(355,"#2f6f2f"),(361,DG),(364,"#2f6f2f"),(370,DG),(373,"#2f6f2f"),(379.7,DG),(418.3,G),(477.6,DG),(479,"#101010"),(482,"#606060"),(485,G),(488,"#303030"),(491,"#707070"),(494,G),(497,"#306030"),(500,G),(503,"#505050"),(506,"#7a7a7a"),(509,"#606060"),(512,G),(515,"#7a7a7a"),(518,"#303030"),(520,G),(522.6,"#404040"),(580,G),(583,"#202020"),(586,"#9a9a9a"),(590,"#202020"),(594.3,"#505050"),(624.3,K),(627,G),(628.5,"#404040"),(632,G),(633.5,"#406040"),(637,G),(640,"#707070"),(641.5,"#404040"),(645,G),(648,"#606060"),(650,"#404040"),(655,G),(657,"#406040"),(660,G),(662,"#404040"),(666,G),(668,"#406040"),(672,G),(675,"#303030"),(680,"#707070"),(683,"#303030"),(686,G),(688,"#303030"),(690,G),(692.6,"#606060"),(697.6,K),(723.3,G),(725,"#0a3a0a"),(727,"#0a5a0a"),(729,"#101010"),(732,"#0a5a0a"),(735,"#0a3a0a"),(738,K),(741,"#0a5a0a"),(744,"#103010"),(747,"#0a6a0a"),(750,"#101010"),(754,"#0a5a0a"),(758,"#0a4a0a"),(762,"#0a6a0a"),(765,"#103a10"),(768,DG),(772,"#0a5a0a"),(783,DG),(785,"#0a3a0a"),(787,"#103a10"),(790,DG),(846.6,DG)]

# ---------- heat panels ----------
c_modules = ["purple","turquoise","black","tan","greenyellow","yellow","blue","magenta"]
c_module_colors = ["#800080","#40e0d0","#000000","#d2b48c","#adff2f","#ffff00","#0000ff","#ff00ff"]
c_corr_igan = [-0.53,-0.65,-0.70,-0.64,0.60,0.61,0.76,0.52]
c_corr_labels = [["-0.53","-0.65","-0.70","-0.64","0.60","0.61","0.76","0.52"],["0.53","0.65","0.70","0.64","-0.60","-0.61","-0.76","-0.52"]]
c_p_text = ["1.1e-4","5.1e-7","2.9e-8","8.0e-7","6.3e-6","4.4e-6","3.1e-10","1.5e-4"]
c_p = [1.1e-4,5.1e-7,2.9e-8,8.0e-7,6.3e-6,4.4e-6,3.1e-10,1.5e-4]
c_groups = ["Group(IgAN)","Group(control)"]

d_modules = ["grey60","black","darkgreen","grey"]
d_module_colors = ["#808080","#000000","#006400","#808080"]
d_corr_igan = [0.60,-0.43,-0.39,0.0034]
d_corr_labels = [["0.60","-0.43","-0.39","3.4e-3"],["-0.60","0.43","0.39","-3.4e-3"]]
d_p_text = ["9.6e-6","2.9e-3","7.7e-3","0.98"]
d_p = [9.6e-6,2.9e-3,7.7e-3,0.98]
d_groups = ["Disease(IgAN)","Disease(Control)"]

c_fill = [(0,0),(.39,.31),(.52,.37),(.53,.39),(.60,.47),(.65,.54),(.70,.63),(.76,.76),(.81,1)]
d_fill = [(0,0),(.39,.314),(.43,.36),(.60,.60),(.70,1)]

LEFT_W = 1060
RIGHT_X = 1060


def fill_at(v, anchors):
    v = abs(v)
    for (x0, y0), (x1, y1) in zip(anchors, anchors[1:]):
        if v <= x1:
            return y0 + (y1 - y0) * (v - x0) / (x1 - x0)
    return 1.0


def diverging(low, high, n, anchors, cap=1.0):
    out = []
    for i in range(n):
        v = low + (high - low) * (i + .5) / n
        f = fill_at(v, anchors)
        if v >= 0:
            g = int(round(255 * (1 - min(f, cap))))
            out.append(f"#ff{g:02x}{g:02x}")
        else:
            g = int(round(255 * (1 - f)))
            out.append(f"#{g:02x}{g:02x}ff")
    return out


def sequential(stops, n):
    rgb = [tuple(int(c[i:i + 2], 16) for i in (1, 3, 5)) for c in stops]
    out = []
    for i in range(n):
        t = i / (n - 1) * (len(rgb) - 1)
        k = min(int(t), len(rgb) - 2)
        f = t - k
        col = [int(round(rgb[k][j] + (rgb[k + 1][j] - rgb[k][j]) * f)) for j in range(3)]
        out.append("#%02x%02x%02x" % tuple(col))
    return out


def tree_figure(branches, airy, fringe, fringe_lift, joins, stems, y_low, y_high, top_border, height):
    p = figure(width=LEFT_W, height=height, x_range=Range1d(0, 846.6), y_range=Range1d(y_low, y_high),
               output_backend="svg", toolbar_location=None, min_border_left=118, min_border_right=LEFT_W - 1025,
               min_border_top=top_border, min_border_bottom=0, x_axis_location=None)
    p.outline_line_color = None
    p.grid.visible = False
    p.background_fill_color = "white"
    p.segment(guides, [y_high] * len(guides), guides, [y_low + .004] * len(guides), line_color="#666666",
              line_width=1.2, line_dash="3 6")
    p.segment([f[0] for f in fringe], [f[1] + fringe_lift for f in fringe], [f[0] for f in fringe], [f[2] for f in fringe],
              line_color="#1a1a1a", line_width=1.2, line_alpha=.9)
    for branch in branches:
        share = .55 if any(branch is b for b in airy) else 1
        xs = [t[0] for t in branch]
        tops = [t[1] for t in branch]
        solid = [t[1] + (t[2] - t[1]) * share for t in branch]
        low = [t[3] for t in branch]
        p.varea(xs, tops, solid, fill_color="#000000")
        p.segment(xs, tops, xs, low, line_color="#1a1a1a", line_width=1.2, line_alpha=.9)
    p.segment([j[0] for j in joins], [j[2] for j in joins], [j[1] for j in joins], [j[2] for j in joins],
              line_color="#7a7a7a", line_width=1.2)
    p.segment([s[0] for s in stems], [s[1] for s in stems], [s[0] for s in stems], [s[2] for s in stems],
              line_color="#7a7a7a", line_width=1.2)
    ax = p.yaxis[0]
    ticks = [y_low] + tick_values + [y_high]
    ax.ticker = FixedTicker(ticks=ticks)
    ax.major_label_overrides = {y_low: "", y_high: "", .6: "0.6", .7: "0.7", .8: "0.8", .9: "0.9"}
    ax.axis_label = "Height"
    ax.axis_label_text_font = FONT
    ax.axis_label_text_font_size = "14.5px"
    ax.axis_label_text_font_style = "normal"
    ax.axis_label_standoff = 4
    ax.major_label_text_font = FONT
    ax.major_label_text_font_size = "14.5px"
    ax.major_label_standoff = 3
    ax.major_tick_in = 0
    ax.major_tick_out = 8
    ax.minor_tick_line_color = None
    ax.axis_line_color = "#000000"
    ax.major_tick_line_color = "#000000"
    ax.axis_line_width = 1.2
    ax.major_tick_line_width = 1.2
    return p


def strip_figure(cut, merge, top_border, height):
    p = figure(width=LEFT_W, height=height, x_range=Range1d(0, 846.6), y_range=Range1d(0, 2),
               output_backend="svg", toolbar_location=None, min_border_left=118, min_border_right=LEFT_W - 1025,
               min_border_top=top_border, min_border_bottom=height - top_border - 77, x_axis_location=None)
    p.outline_line_color = None
    p.grid.visible = False
    for runs, lo in ((merge, 0), (cut, 1)):
        ends = [r[0] for r in runs]
        lefts = [0] + ends[:-1]
        cols = [r[1] for r in runs]
        p.quad(left=lefts, right=ends, bottom=[lo] * len(runs), top=[lo + 1] * len(runs), fill_color=cols,
               line_color=cols, line_width=.4)
    ax = p.yaxis[0]
    ax.ticker = FixedTicker(ticks=[.62, 1.62])
    ax.major_label_overrides = {.62: row_names[0], 1.62: row_names[1]}
    ax.axis_line_color = None
    ax.major_tick_line_color = None
    ax.minor_tick_line_color = None
    ax.major_tick_in = 0
    ax.major_tick_out = 0
    ax.minor_tick_in = 0
    ax.minor_tick_out = 0
    ax.major_label_text_font = FONT
    ax.major_label_text_font_size = "14.5px"
    ax.major_label_standoff = 7
    return p


def letter_figure(letter, left, top, baseline):
    p = figure(width=40, height=50, x_range=Range1d(0, 40), y_range=Range1d(50, 0), output_backend="svg",
               toolbar_location=None, min_border=0, x_axis_location=None, y_axis_location=None,
               styles={"position": "absolute", "left": f"{left}px", "top": f"{top}px"})
    p.outline_line_color = None
    p.grid.visible = False
    p.background_fill_alpha = 0
    p.border_fill_alpha = 0
    p.text([3], [baseline], text=[letter], text_font=value(FONT), text_font_size="34px", text_baseline="alphabetic",
           text_color="#000000")
    return p


def heat_figure(frame, rows, corr_first, corr_text, p_values, p_text, modules, module_colors, groups, fill,
                corr_low, corr_high, p_high, p_stops, p_ticks, p_labels, letter, letter_y, strip_px, ann_py,
                label_left, label_drop, group_pos, corr_bar, p_bar, y0, height):
    left, right, top, bottom = frame
    ux = (right - left) / 2
    uy = (bottom - top) / rows
    px = lambda v: (v - left) / ux
    py = lambda v: (v - top) / uy
    fig = figure(width=1944 - RIGHT_X, height=height, x_range=Range1d(px(RIGHT_X), px(1944)),
                 y_range=Range1d(py(y0 + height), py(y0)),
                 output_backend="svg", toolbar_location=None, min_border=0, x_axis_location=None, y_axis_location=None)
    fig.outline_line_color = None
    fig.grid.visible = False
    cell_map = LinearColorMapper(palette=diverging(corr_low, corr_high, 325, fill), low=corr_low, high=corr_high)
    p_map = LinearColorMapper(palette=sequential(p_stops, 256), low=0, high=p_high)
    xs_u, ys_u, vs_u, xs_l, ys_l, vs_l = [], [], [], [], [], []
    for c in range(2):
        for r in range(rows):
            xs_u.append([c, c, c + 1])
            ys_u.append([r + 1, r, r])
            vs_u.append(corr_first[r] * (1 if c == 0 else -1))
            xs_l.append([c, c + 1, c + 1])
            ys_l.append([r + 1, r + 1, r])
            vs_l.append(p_values[r])
    fig.patches("xs", "ys", fill_color={"field": "v", "transform": p_map}, line_color=None,
                source=ColumnDataSource(dict(xs=xs_l, ys=ys_l, v=vs_l)))
    fig.patches("xs", "ys", fill_color={"field": "v", "transform": cell_map}, line_color=None,
                source=ColumnDataSource(dict(xs=xs_u, ys=ys_u, v=vs_u)))
    fig.quad(left=[0], right=[2], top=[0], bottom=[rows], fill_color=None, line_color="#333333", line_width=1.5)
    sl, sr = px(strip_px[0]), px(strip_px[1])
    fig.quad(left=[sl] * rows, right=[sr] * rows, top=list(range(rows)), bottom=[r + 1 for r in range(rows)],
             fill_color=module_colors, line_color=module_colors, line_width=.5)
    fig.quad(left=[sl], right=[sr], top=[0], bottom=[rows], fill_color=None, line_color="#666666", line_width=1)
    fig.quad(left=[0, 1], right=[1, 2], top=[py(ann_py[0])] * 2, bottom=[py(ann_py[1])] * 2,
             fill_color=["#00478a", "#a8002a"], line_color=None)
    style = dict(text_font=value(FONT), text_font_size="11.5px", text_color="#000000")
    tx, ty, tt = [], [], []
    for c in range(2):
        for r in range(rows):
            tx.append(c)
            ty.append(r)
            tt.append(corr_text[c][r])
    fig.text(tx, ty, text=tt, text_align="left", text_baseline="top", x_offset=2, y_offset=1, **style)
    qx, qy, qt = [], [], []
    for c in range(2):
        for r in range(rows):
            qx.append(c + 1)
            qy.append(r + 1)
            qt.append(p_text[r])
    fig.text(qx, qy, text=qt, text_align="right", text_baseline="bottom", x_offset=-1, y_offset=0, **style)
    label_style = dict(text_font=value(FONT), text_font_size="12px", text_color="#000000")
    fig.text([px(label_left)] * rows, [r + .5 for r in range(rows)], text=modules, text_align="left",
             text_baseline="middle", y_offset=label_drop, **label_style)
    fig.text([px(g[0]) for g in group_pos], [py(g[1]) for g in group_pos], text=groups, angle=pi / 4,
             text_align="center", text_baseline="middle", **label_style)
    fig.text([px(letter[0])], [py(letter_y)], text=[letter[1]], text_font=value(FONT), text_font_size="34px",
             text_baseline="alphabetic", text_color="#000000")
    bar_common = dict(orientation="horizontal", padding=0, background_fill_alpha=0, border_line_color=None,
                      bar_line_color=None, major_tick_line_color="#000000", major_tick_in=0, major_tick_out=5,
                      minor_tick_line_color=None, label_standoff=2, title_standoff=0,
                      title_text_font=FONT, title_text_font_size="12px", title_text_font_style="normal",
                      major_label_text_font=FONT, major_label_text_font_size="12px", major_label_policy=AllLabels())
    corr_bar_map = LinearColorMapper(palette=diverging(corr_low, corr_high, 21, fill, cap=.68), low=corr_low, high=corr_high)
    cb1 = ColorBar(color_mapper=corr_bar_map, width=int(corr_bar[1] - corr_bar[0]), height=int(corr_bar[3] - corr_bar[2]),
                   title="correlation coefficient",
                   location=(corr_bar[0] - RIGHT_X, y0 + height - corr_bar[3] - 22),
                   ticker=FixedTicker(ticks=[corr_low, -.5, 0, .5, corr_high]),
                   major_label_overrides={corr_low: "", -.5: "\u22120.5", 0: "0.0", .5: "0.5", corr_high: ""}, **bar_common)
    fig.add_layout(cb1)
    p_bar_map = LinearColorMapper(palette=sequential(p_stops, 21), low=0, high=p_high)
    cb2 = ColorBar(color_mapper=p_bar_map, width=int(p_bar[1] - p_bar[0]), height=int(p_bar[3] - p_bar[2]),
                   title="pValue",
                   location=(p_bar[0] - RIGHT_X, y0 + height - p_bar[3] - 19),
                   ticker=FixedTicker(ticks=p_ticks),
                   major_label_overrides=dict(zip(p_ticks, p_labels)), **bar_common)
    fig.add_layout(cb2)
    for bar in (corr_bar, p_bar):
        fig.segment([px(bar[0])], [py(bar[3])], [px(bar[1])], [py(bar[3])], line_color="#000000", line_width=1)
    return fig


tree_a = tree_figure(a_branches, a_airy, a_fringe, .012, a_joins, a_stems, .57, .9945, 9, 343)
strip_a = strip_figure(a_cut, a_merge, 6, 85)
tree_b = tree_figure(b_branches, [], b_fringe, .012, b_joins, b_stems, .527, .9992, 71, 406)
strip_b = strip_figure(b_cut, b_merge, 5, 85)

heat_c = heat_figure((1151.5, 1727, 14.7, 346.7), 8, c_corr_igan, c_corr_labels, c_p, c_p_text, c_modules, c_module_colors,
                     c_groups, c_fill, -.81, .81, .1, PuBuGn[9][::-1], [0, .05, .1], ["0.00", "0.05", "0.10"],
                     (1091, "c"), 7, (1731, 1760.6), (350.7, 361.3), 1765.3, 2,
                     [(1273, 392), (1558, 394)], (1835, 1932.7, 29.3, 48.3), (1835, 1932.7, 81, 100), 0, 459)
heat_d = heat_figure((1162, 1738.5, 505, 830.7), 4, d_corr_igan, d_corr_labels, d_p, d_p_text, d_modules, d_module_colors,
                     d_groups, d_fill, -.7, .7, 1, Blues[9][::-1], [0, .5, 1], ["0.0", "0.5", "1.0"],
                     (1091, "d"), 511, (1742.7, 1772), (834.7, 845.3), 1776.3, 3,
                     [(1282, 878.7), (1566.7, 881.7)], (1833.6, 1928.7, 520, 539.3), (1833.6, 1928.7, 572, 591), 459, 460)

left_col = column(tree_a, strip_a, tree_b, strip_b, spacing=0)
right_col = column(heat_c, heat_d, spacing=0)
root = row(left_col, right_col, spacing=0, styles={"position": "absolute", "left": "0px", "top": "0px"})
letter_a = letter_figure("a", 3, 0, 7)
letter_b = letter_figure("b", 3, 485, 26)
open("out.html", "w").write(file_html([root, letter_a, letter_b], INLINE))
